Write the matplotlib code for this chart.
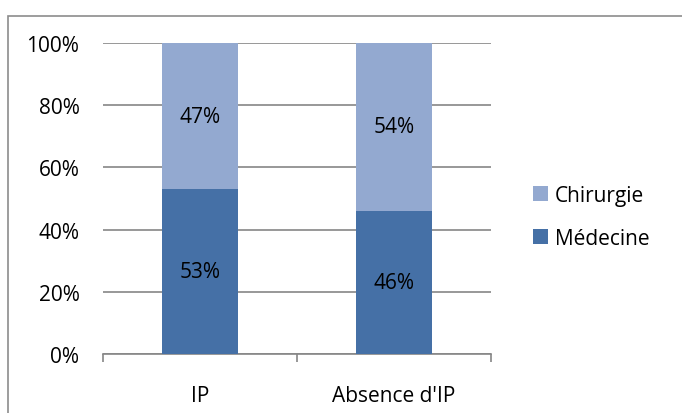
import matplotlib.pyplot as plt
from matplotlib.patches import Rectangle
from matplotlib.ticker import PercentFormatter

categories = ["IP", "Absence d'IP"]
medecine = [53, 46]
chirurgie = [47, 54]

plt.rcParams['font.family'] = ['Open Sans', 'DejaVu Sans']
fs = 15

fig = plt.figure(figsize=(6.82, 4.14), dpi=100)
# outer chart frame (open on right and bottom, as cropped in the original)
fig.patches.append(Rectangle((8 / 682, -0.1), 2.0, 1 - 17 / 414 + 0.1,
                             transform=fig.transFigure, fill=False,
                             edgecolor='#8c8c8c', linewidth=1.2))

ax = fig.add_axes([103 / 682, 59 / 414, 388 / 682, 311 / 414])

x = range(len(categories))
w = 0.39
ax.bar(x, medecine, w, color='#4570A6', label='Médecine', zorder=3)
ax.bar(x, chirurgie, w, bottom=medecine, color='#93A9D0', label='Chirurgie', zorder=3)

for i in x:
    ax.text(i, medecine[i] / 2, f"{medecine[i]}%", ha='center', va='center', fontsize=fs, zorder=4)
    ax.text(i, medecine[i] + chirurgie[i] / 2, f"{chirurgie[i]}%", ha='center', va='center', fontsize=fs, zorder=4)

ax.set_xlim(-0.5, 1.5)
ax.set_ylim(0, 100)
ax.set_yticks(range(0, 101, 20))
ax.yaxis.set_major_formatter(PercentFormatter(decimals=0))
ax.grid(axis='y', color='#868686', linewidth=1.2, zorder=0)
ax.set_xticks([-0.5, 0.5, 1.5])
ax.set_xticklabels([])
ax.set_xticks(list(x), minor=True)
ax.set_xticklabels(categories, minor=True)
ax.tick_params(axis='x', which='major', length=6, width=1.2, color='#868686', direction='out')
ax.tick_params(axis='x', which='minor', length=0, pad=22, labelsize=fs)
ax.tick_params(axis='y', length=0, pad=17, labelsize=fs)
for s in ['top', 'right', 'left']:
    ax.spines[s].set_visible(False)
ax.spines['bottom'].set_color('#868686')
ax.spines['bottom'].set_linewidth(1.2)

handles, labels = ax.get_legend_handles_labels()
fig.legend(handles[::-1], labels[::-1], loc='center left', bbox_to_anchor=(533 / 682, 1 - 218 / 414),
           frameon=False, fontsize=fs, handlelength=0.7, handleheight=0.7, handletextpad=0.35,
           labelspacing=1.05, borderpad=0, borderaxespad=0)

fig.savefig('out.png', dpi=100)
